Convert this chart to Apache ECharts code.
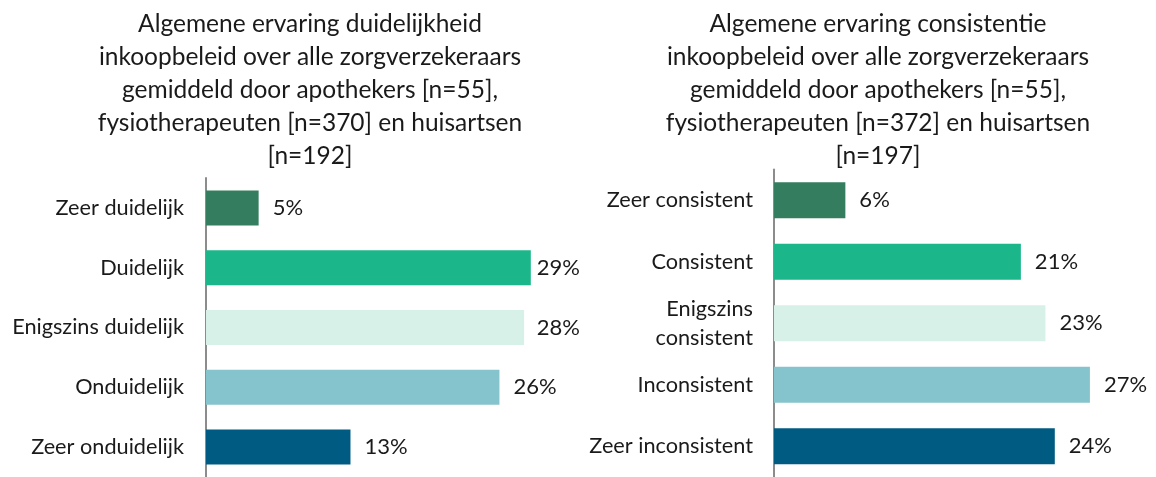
<!DOCTYPE html>
<html>
<head>
<meta charset="utf-8">
<script src="https://cdn.jsdelivr.net/npm/echarts@6/dist/echarts.min.js"></script>
<style>
html,body{margin:0;padding:0;background:#fff;}
#c{width:1156px;height:477px;}
</style>
</head>
<body>
<div id="c"></div>
<script>
// ---- data ----
const leftTitle = 'Algemene ervaring duidelijkheid\ninkoopbeleid over alle zorgverzekeraars\ngemiddeld door apothekers [n=55],\nfysiotherapeuten [n=370] en huisartsen\n[n=192]';
const rightTitle = 'Algemene ervaring consistentie\ninkoopbeleid over alle zorgverzekeraars\ngemiddeld door apothekers [n=55],\nfysiotherapeuten [n=372] en huisartsen\n[n=197]';
const leftCategories = ['Zeer duidelijk', 'Duidelijk', 'Enigszins duidelijk', 'Onduidelijk', 'Zeer onduidelijk'];
const leftValues = [4.7, 29.0, 28.4, 26.2, 12.9];
const rightCategories = ['Zeer consistent', 'Consistent', 'Enigszins\nconsistent', 'Inconsistent', 'Zeer inconsistent'];
const rightValues = [6.1, 21.1, 23.2, 27.0, 24.0];
const barColors = ['#347e5f', '#1bb68a', '#d7f1e9', '#85c3cd', '#005b82'];

const FONT = 'Lato';
const TXT = '#1a1a1a';

const chart = echarts.init(document.getElementById('c'), null, {renderer: 'canvas'});

function seriesFor(idx, values, maxRight) {
  return {
    type: 'bar',
    xAxisIndex: idx,
    yAxisIndex: idx,
    barWidth: idx === 0 ? 35 : 36,
    data: values.map((v, i) => ({value: v, itemStyle: {color: barColors[i]}})),
    label: {
      show: true,
      position: 'right',
      distance: 14,
      color: TXT,
      fontFamily: FONT,
      fontSize: 22,
      formatter: p => Math.round(p.value) + '%'
    },
    labelLayout: function (params) {
      const r = params.labelRect;
      if (r.x + r.width > maxRight) {
        return {x: maxRight - r.width, y: r.y, align: 'left', verticalAlign: 'top'};
      }
      return {};
    },
    silent: true,
    animation: false
  };
}

function catAxis(idx, cats, margin) {
  return {
    type: 'category',
    gridIndex: idx,
    data: cats,
    inverse: true,
    axisTick: {show: false},
    axisLine: {show: true, lineStyle: {color: '#8c8c8c', width: 2}},
    axisLabel: {
      color: TXT, fontFamily: FONT, fontSize: 21.7, margin: margin,
      lineHeight: 29, align: 'right'
    },
    splitLine: {show: false}
  };
}

function valAxis(idx) {
  return {
    type: 'value',
    gridIndex: idx,
    min: 0,
    max: 30,
    show: false,
    splitLine: {show: false}
  };
}

chart.setOption({
  backgroundColor: '#ffffff',
  animation: false,
  title: [
    {text: leftTitle, left: 305, top: 3, textAlign: 'center',
     textStyle: {color: TXT, fontFamily: FONT, fontSize: 24.5, fontWeight: 'normal', lineHeight: 33}},
    {text: rightTitle, left: 873, top: 3, textAlign: 'center',
     textStyle: {color: TXT, fontFamily: FONT, fontSize: 24.5, fontWeight: 'normal', lineHeight: 33}}
  ],
  grid: [
    {left: 206, top: 178, width: 336, height: 305, containLabel: false},
    {left: 774, top: 169.6, width: 351, height: 311.5, containLabel: false}
  ],
  xAxis: [valAxis(0), valAxis(1)],
  yAxis: [catAxis(0, leftCategories, 22), catAxis(1, rightCategories, 21)],
  series: [seriesFor(0, leftValues, 580), seriesFor(1, rightValues, 1154)]
});
</script>
</body>
</html>
